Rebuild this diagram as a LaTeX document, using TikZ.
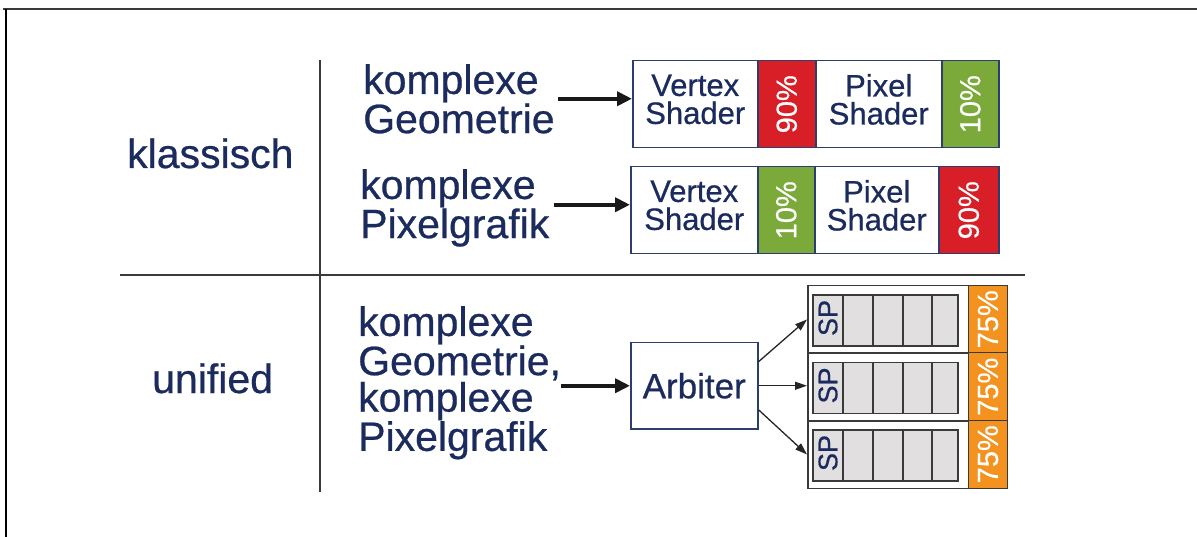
\documentclass[tikz,border=0pt]{standalone}
\usepackage{fontspec}
\setmainfont{Liberation Sans}[FakeBold=0.6]
\usepackage{graphicx}
\usetikzlibrary{arrows.meta,calc}
\definecolor{navy}{HTML}{1C2B5E}
\definecolor{boxline}{HTML}{2D3D6D}
\definecolor{pred}{HTML}{D81F27}
\definecolor{pgreen}{HTML}{7BAA3A}
\definecolor{porange}{HTML}{F3921F}
\definecolor{spgrey}{HTML}{E2DFE0}
\definecolor{linegrey}{HTML}{3A3A3A}
\begin{document}
\begin{tikzpicture}[x=1pt,y=-1pt,
  bigtext/.style={font=\fontsize{41}{36.5}\selectfont, text=navy, inner sep=0pt, align=left},
  shbox/.style={draw=boxline, line width=1.5pt, fill=white, inner sep=0pt, anchor=north west,
    font=\fontsize{31}{28}\selectfont, text=navy, align=center, text depth=10pt},
  pctbox/.style={draw=boxline, line width=1.5pt, inner sep=0pt, anchor=north west,
    font=\fontsize{29}{29}\selectfont, text=white},
  arbbox/.style={draw=boxline, line width=1.5pt, fill=white, inner sep=0pt, anchor=north west,
    font=\fontsize{35}{35}\selectfont, text=navy},
  sprow/.style={draw=linegrey, line width=1.5pt, fill=white, inner sep=0pt, anchor=north west,
    minimum width=161pt, minimum height=67.5pt},
  orbox/.style={draw=linegrey, line width=1pt, fill=porange, inner sep=0pt, anchor=north west,
    minimum width=39pt, minimum height=67.5pt, font=\fontsize{29}{29}\selectfont, text=white},
  spcell/.style={draw=linegrey, line width=1.5pt, fill=spgrey},
  bigarrow/.style={line width=4pt, -{Triangle[length=15pt,width=14pt]}, black!90},
  smallarrow/.style={line width=1.3pt, -{Triangle[length=12pt,width=8pt]}, black!85},
  divider/.style={draw=linegrey, line width=1.5pt}]
\useasboundingbox (0,0) rectangle (1197,537);
% frame
\draw[draw=linegrey, line width=1.8pt] (3,9) -- (1197,9);
\draw[draw=black, line width=1.5pt] (6,9) -- (6,537);
% dividers
\draw[divider] (320,60) -- (320,492);
\draw[divider] (120,275) -- (1025,275);
% row labels
\node[bigtext, anchor=base west] (kl) at (127,168) {klassisch};
\node[bigtext, anchor=base west] (un) at (152,393) {unified};
% left texts
\node[bigtext, anchor=north west] (t1) at (363,64) {komplexe\\Geometrie};
\node[bigtext, anchor=north west] (t2) at (360,169) {komplexe\\Pixelgrafik};
\node[bigtext, anchor=north west] (t3) at (358,306) {komplexe\\Geometrie,\\komplexe\\Pixelgrafik};
% row 1
\node[shbox, minimum width=125pt, minimum height=87pt] (vs1) at (632,60) {Vertex\\Shader};
\node[pctbox, fill=pred, minimum width=58pt, minimum height=87pt] (p1) at (757,60) {\rotatebox{90}{90\%}};
\node[shbox, minimum width=126pt, minimum height=87pt] (ps1) at (815,60) {Pixel\\Shader};
\node[pctbox, fill=pgreen, minimum width=57pt, minimum height=87pt] (p2) at (941,60) {\rotatebox{90}{10\%}};
% row 2
\node[shbox, minimum width=127pt, minimum height=87pt] (vs2) at (630,166) {Vertex\\Shader};
\node[pctbox, fill=pgreen, minimum width=57pt, minimum height=87pt] (p3) at (757,166) {\rotatebox{90}{10\%}};
\node[shbox, minimum width=124pt, minimum height=87pt] (ps2) at (814,166) {Pixel\\Shader};
\node[pctbox, fill=pred, minimum width=60pt, minimum height=87pt] (p4) at (938,166) {\rotatebox{90}{90\%}};
% arbiter
\node[arbbox, minimum width=127pt, minimum height=86pt] (arb) at (630,342) {Arbiter};
% SP rows
\foreach \i/\y in {1/285, 2/352.5, 3/420} {
  \node[sprow] (sp\i) at (807,\y) {};
  \node[orbox] (or\i) at (968,\y) {\rotatebox{90}{75\%}};
  \draw[spcell] (813,\y+10) rectangle (843,\y+61);
  \draw[spcell] (843,\y+10) rectangle (873,\y+61);
  \draw[spcell] (873,\y+10) rectangle (903,\y+61);
  \draw[spcell] (903,\y+10) rectangle (932,\y+61);
  \draw[spcell] (932,\y+10) rectangle (958,\y+61);
  \node[inner sep=0pt, text=navy, font=\fontsize{27}{27}\selectfont] (spl\i) at (828,\y+33) {\rotatebox{90}{SP}};
}
% big arrows
\draw[bigarrow] ([yshift=5.5pt,xshift=3pt]vs1.west -| t1.east) -- ([yshift=5.5pt]vs1.west);
\draw[bigarrow] ([yshift=5.5pt,xshift=4pt]vs2.west -| t2.east) -- ([yshift=5.5pt]vs2.west);
\draw[bigarrow] ([xshift=0pt]arb.west -| t3.east) -- (arb.west);
% small arrows
\draw[smallarrow] ([yshift=24pt]arb.east) -- (sp1.west);
\draw[smallarrow] (arb.east) -- (arb.east -| sp2.west);
\draw[smallarrow] ([yshift=-24pt]arb.east) -- (sp3.west);
\end{tikzpicture}
\end{document}
